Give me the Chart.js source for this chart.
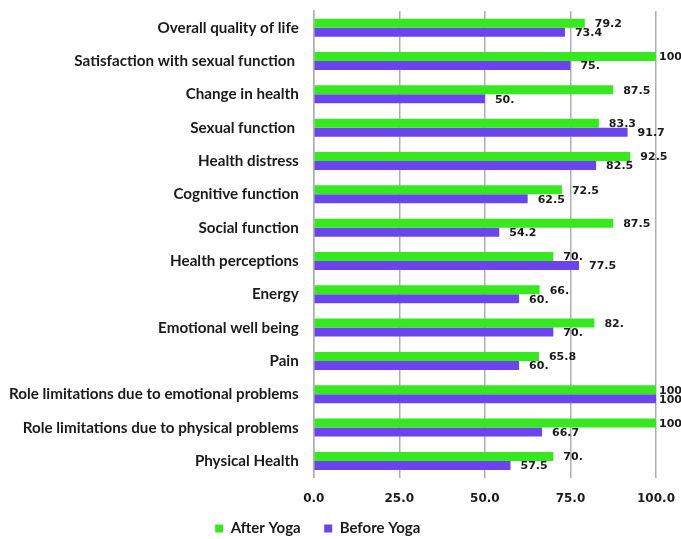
<!DOCTYPE html>
<html>
<head>
<meta charset="utf-8">
<script src="https://cdn.jsdelivr.net/npm/chart.js@4/dist/chart.umd.min.js"></script>
<style>
  html, body { margin:0; padding:0; background:#fff; }
  #wrap { width:681px; height:539px; }
</style>
</head>
<body>
<div id="wrap"><canvas id="c"></canvas></div>
<script>
const categories = [
  'Overall quality of life',
  'Satisfaction with sexual function ',
  'Change in health',
  'Sexual function ',
  'Health distress',
  'Cognitive function',
  'Social function',
  'Health perceptions',
  'Energy',
  'Emotional well being',
  'Pain',
  'Role limitations due to emotional problems',
  'Role limitations due to physical problems',
  'Physical Health'
];
const afterYoga  = [79.2, 100, 87.5, 83.3, 92.5, 72.5, 87.5, 70, 66, 82, 65.8, 100, 100, 70];
const beforeYoga = [73.4, 75, 50, 91.7, 82.5, 62.5, 54.2, 77.5, 60, 70, 60, 100, 66.7, 57.5];
// value labels as printed in the source
const afterText  = ['79.2','100','87.5','83.3','92.5','72.5','87.5','70.','66.','82.','65.8','100','100','70.'];
const beforeText = ['73.4','75.','50.','91.7','82.5','62.5','54.2','77.5','60.','70.','60.','100','66.7','57.5'];
const xTicks = [0, 25, 50, 75, 100];

const GREEN = '#36e81e', PURPLE = '#6a44ec', GRID = '#a9b0b6';

const valueLabels = {
  id: 'valueLabels',
  afterDatasetsDraw(chart) {
    const { ctx, chartArea } = chart;
    const texts = [afterText, beforeText];
    ctx.save();
    ctx.font = "bold 11px 'DejaVu Sans', sans-serif";
    ctx.fillStyle = '#1a1a1a';
    ctx.textBaseline = 'middle';
    ctx.textAlign = 'left';
    chart.data.datasets.forEach((ds, di) => {
      chart.getDatasetMeta(di).data.forEach((bar, i) => {
        const x = Math.min(bar.x + 10, chartArea.right + 3);
        ctx.fillText(texts[di][i], x, bar.y + 1);
      });
    });
    ctx.restore();
  }
};

new Chart(document.getElementById('c'), {
  type: 'bar',
  data: {
    labels: categories,
    datasets: [
      { label: 'After Yoga',  data: afterYoga,  backgroundColor: GREEN,  borderWidth: 0 },
      { label: 'Before Yoga', data: beforeYoga, backgroundColor: PURPLE, borderWidth: 0 }
    ]
  },
  options: {
    indexAxis: 'y',
    responsive: true,
    maintainAspectRatio: false,
    animation: false,
    categoryPercentage: 0.54,
    barPercentage: 1,
    layout: { padding: { top: 11, right: 25, left: 2, bottom: -7 } },
    plugins: {
      legend: {
        position: 'bottom',
        labels: {
          color: '#1a1a1a',
          font: { family: 'Lato', size: 15, weight: 'bold' },
          boxWidth: 8, boxHeight: 8, padding: 1,
          // pad the entry texts so the pair sits like the original
          generateLabels: chart => Chart.defaults.plugins.legend.labels.generateLabels(chart)
            .map(l => ({ ...l, text: l.text + '\u2003\u2003' }))
        }
      },
      tooltip: { enabled: false }
    },
    scales: {
      x: {
        min: 0, max: 100,
        afterBuildTicks: s => { s.ticks = xTicks.map(v => ({ value: v })); },
        afterFit: s => { s.paddingRight = 0; s.paddingLeft = 0; },
        grid: { color: GRID, lineWidth: 1.5, drawTicks: true, tickLength: 0 },
        border: { display: false },
        ticks: {
          color: '#1a1a1a', padding: 14,
          font: { family: 'DejaVu Sans', size: 12, weight: 'bold' },
          callback: v => Number(v).toFixed(1)
        }
      },
      y: {
        afterFit: s => { s.paddingTop = 0; s.paddingBottom = 0; },
        grid: { display: false },
        border: { display: true, color: GRID, width: 1.5 },
        ticks: {
          color: '#1a1a1a', padding: 7,
          font: { family: 'Lato', size: 15.2, weight: 'bold' }
        }
      }
    }
  },
  plugins: [valueLabels]
});
</script>
</body>
</html>
